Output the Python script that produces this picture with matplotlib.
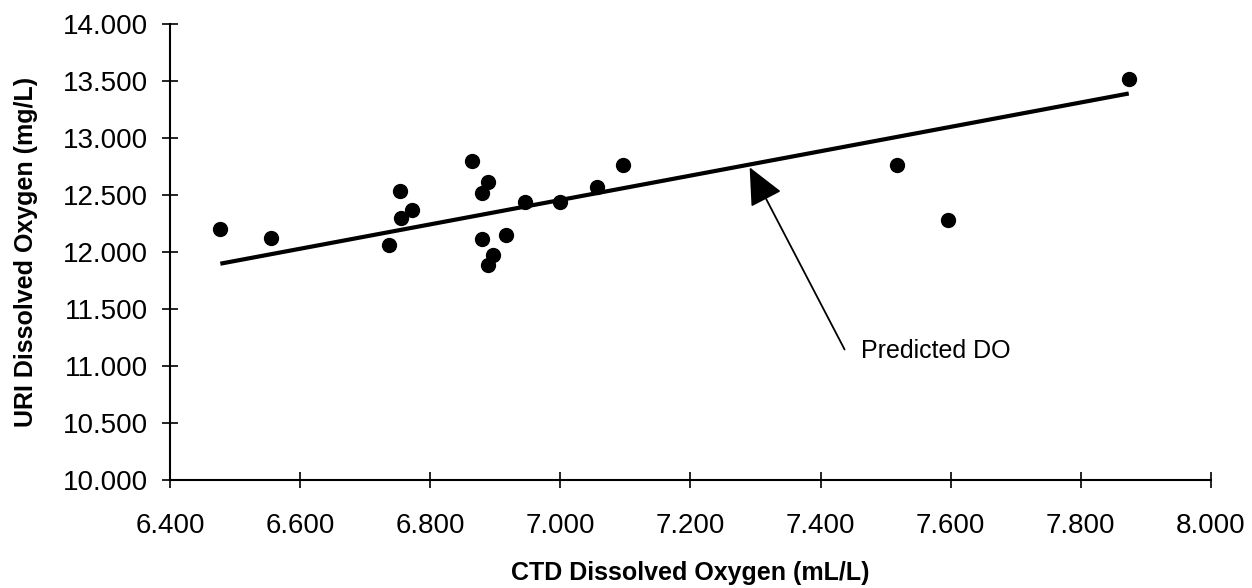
import matplotlib
matplotlib.use("Agg")
import matplotlib.pyplot as plt
from matplotlib.ticker import FormatStrFormatter

plt.rcParams['font.family'] = ['Liberation Sans', 'DejaVu Sans']

# CTD vs URI dissolved oxygen samples
ctd_do = [6.477, 6.555, 6.736, 6.753, 6.755, 6.772, 6.864, 6.889, 6.880, 6.880,
          6.897, 6.888, 6.917, 6.946, 6.999, 7.057, 7.096, 7.517, 7.596, 7.874]
uri_do = [12.199, 12.120, 12.064, 12.535, 12.295, 12.372, 12.802, 12.618, 12.518,
          12.117, 11.976, 11.885, 12.146, 12.442, 12.439, 12.570, 12.767, 12.761,
          12.280, 13.517]

# predicted DO (regression line end points)
pred_x = [6.477, 7.874]
pred_y = [11.897, 13.391]

x_ticks = [6.4, 6.6, 6.8, 7.0, 7.2, 7.4, 7.6, 7.8, 8.0]
y_ticks = [10.0, 10.5, 11.0, 11.5, 12.0, 12.5, 13.0, 13.5, 14.0]

fig = plt.figure(figsize=(12.52, 5.88), dpi=100)
ax = fig.add_axes([0.136, 0.184, 0.831, 0.775])

ax.plot(pred_x, pred_y, color='black', lw=3, solid_capstyle='butt')
ax.plot(ctd_do, uri_do, 'o', color='black', ms=10, mec='black')

# arrow pointing at the line, label drawn separately
ax.annotate("", xy=(7.291, 12.743), xytext=(7.437, 11.144),
            arrowprops=dict(arrowstyle='-|>,head_length=1.3,head_width=0.6',
                            mutation_scale=18, color='black', lw=1.3,
                            shrinkA=0, shrinkB=0))
ax.text(7.462, 11.127, "Predicted DO", fontsize=18, va='center', ha='left')

ax.set_xlim(6.4, 8.0)
ax.set_ylim(10.0, 14.0)
ax.set_xticks(x_ticks)
ax.set_yticks(y_ticks)
ax.xaxis.set_major_formatter(FormatStrFormatter('%.3f'))
ax.yaxis.set_major_formatter(FormatStrFormatter('%.3f'))

for s in ['top', 'right']:
    ax.spines[s].set_visible(False)
for s in ['left', 'bottom']:
    ax.spines[s].set_linewidth(1.5)

ax.tick_params(direction='inout', length=12, width=1.2, labelsize=20)
ax.tick_params(axis='x', pad=18)
ax.tick_params(axis='y', pad=10)

ax.set_xlabel("CTD Dissolved Oxygen (mL/L)", fontsize=18, fontweight='bold',
              labelpad=16)
ax.set_ylabel("URI Dissolved Oxygen (mg/L)", fontsize=18, fontweight='bold',
              labelpad=18)

fig.savefig("out.png", dpi=100)
